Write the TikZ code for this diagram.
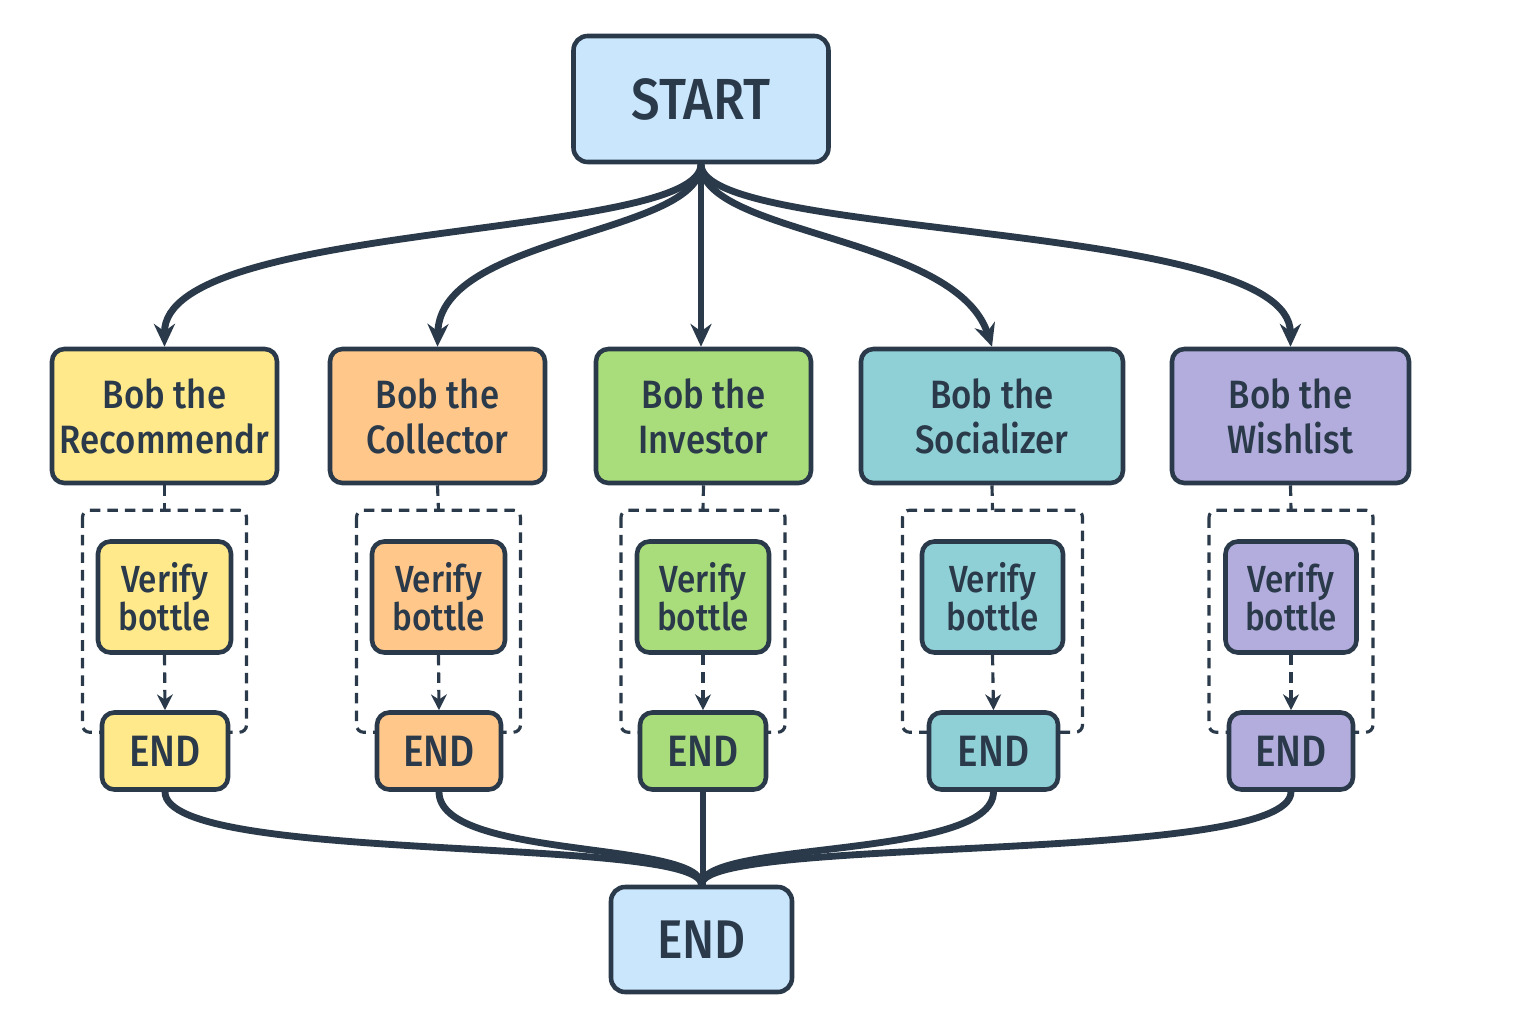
\documentclass[tikz,border=0pt]{standalone}
\usepackage{fontspec}
\setmainfont{Fira Sans Medium}[FakeStretch=0.88]
\usetikzlibrary{positioning,calc,arrows.meta}

\definecolor{ink}{HTML}{2B3A4A}
\definecolor{skyfill}{HTML}{C9E6FC}
\definecolor{recfill}{HTML}{FFE98A}
\definecolor{colfill}{HTML}{FFC88A}
\definecolor{invfill}{HTML}{A9DC7A}
\definecolor{socfill}{HTML}{8FD0D6}
\definecolor{wishfill}{HTML}{B3ADDE}

\tikzset{
  box/.style={draw=ink, line width=2.6pt, rounded corners=7pt, align=center,
    text=ink, inner sep=0pt},
  terminal/.style={box, fill=skyfill, rounded corners=8pt},
  persona/.style={box, minimum height=2.68cm, font=\fontsize{22.5}{25.5}\selectfont},
  verifybox/.style={box, minimum height=2.22cm, font=\fontsize{21.5}{21.5}\selectfont},
  stopbox/.style={box, minimum height=1.54cm, font=\fontsize{25}{26}\selectfont},
  fan/.style={draw=ink, line width=3.9pt, -{Stealth[length=13pt,width=12pt]}},
  merge/.style={draw=ink, line width=3.9pt},
  dashlink/.style={draw=ink, line width=1.8pt, dash pattern=on 6pt off 4pt},
  group/.style={draw=ink, line width=1.8pt, dash pattern=on 6pt off 4pt, rounded corners=4pt}
}

\begin{document}
\begin{tikzpicture}[x=0.02cm,y=-0.02cm]
  \useasboundingbox (0,0) rectangle (1536,1024);

  % Start
  \node[terminal, minimum width=5.1cm, minimum height=2.52cm,
    font=\fontsize{33}{35}\selectfont] (start) at (701,99) {START};

  % Personas
  \node[persona, fill=recfill, minimum width=4.5cm] (rec) at (164.5,416) {Bob the\\Recommendr};
  \node[persona, fill=colfill, minimum width=4.3cm] (col) at (437.5,416) {Bob the\\Collector};
  \node[persona, fill=invfill, minimum width=4.3cm] (inv) at (703.5,416) {Bob the\\Investor};
  \node[persona, fill=socfill, minimum width=5.24cm] (soc) at (992,416) {Bob the\\Socializer};
  \node[persona, fill=wishfill, minimum width=4.74cm] (wish) at (1290.5,416) {Bob the\\Wishlist};

  % Verify steps
  \node[verifybox, fill=recfill, minimum width=2.66cm] (vrec) at (164.5,597) {Verify\\bottle};
  \node[verifybox, fill=colfill, minimum width=2.66cm] (vcol) at (438.5,597) {Verify\\bottle};
  \node[verifybox, fill=invfill, minimum width=2.64cm] (vinv) at (703,597) {Verify\\bottle};
  \node[verifybox, fill=socfill, minimum width=2.82cm] (vsoc) at (992.5,597) {Verify\\bottle};
  \node[verifybox, fill=wishfill, minimum width=2.62cm] (vwish) at (1291,597) {Verify\\bottle};

  % Dashed groups (drawn before the END boxes)
  \foreach \p/\w in {rec/82, col/82, inv/82, soc/90, wish/82} {
    \coordinate (g\p) at ($(v\p.north)+(0,-29)$);
    \draw[group] ($(g\p)+(-\w,0)$) rectangle ($(g\p)+(\w,222)$);
    \draw[dashlink] (\p.south) -- (g\p);
  }

  % Branch ends
  \node[stopbox, fill=recfill, minimum width=2.52cm] (erec) at (165,751) {END};
  \node[stopbox, fill=colfill, minimum width=2.48cm] (ecol) at (439,751) {END};
  \node[stopbox, fill=invfill, minimum width=2.52cm] (einv) at (703,751) {END};
  \node[stopbox, fill=socfill, minimum width=2.58cm] (esoc) at (993.5,751) {END};
  \node[stopbox, fill=wishfill, minimum width=2.48cm] (ewish) at (1291,751) {END};

  \foreach \p in {rec, col, inv, soc, wish}
    \draw[dashlink, -{Stealth[length=9pt,width=9pt]}] (v\p.south) -- (e\p.north);

  % Final end
  \node[terminal, minimum width=3.62cm, minimum height=2.1cm,
    font=\fontsize{31}{33}\selectfont] (finish) at (701.5,939.5) {END};

  % Fan out from start
  \draw[fan] (start.south) .. controls (701,240) and (164,220) .. (rec.north);
  \draw[fan] (start.south) .. controls (701,235) and (440,235) .. (col.north);
  \draw[fan] (start.south) -- (start.south |- inv.north);
  \draw[fan] (start.south) .. controls (701,235) and (955,235) .. (soc.north);
  \draw[fan] (start.south) .. controls (701,240) and (1290,220) .. (wish.north);

  % Merge into final end
  \draw[merge] (erec.south) .. controls (165,865) and (701,835) .. (finish.north);
  \draw[merge] (ecol.south) .. controls (439,860) and (701,840) .. (finish.north);
  \draw[merge] (einv.south) -- (einv.south |- finish.north);
  \draw[merge] (esoc.south) .. controls (993,860) and (701,840) .. (finish.north);
  \draw[merge] (ewish.south) .. controls (1291,865) and (701,835) .. (finish.north);
\end{tikzpicture}
\end{document}
